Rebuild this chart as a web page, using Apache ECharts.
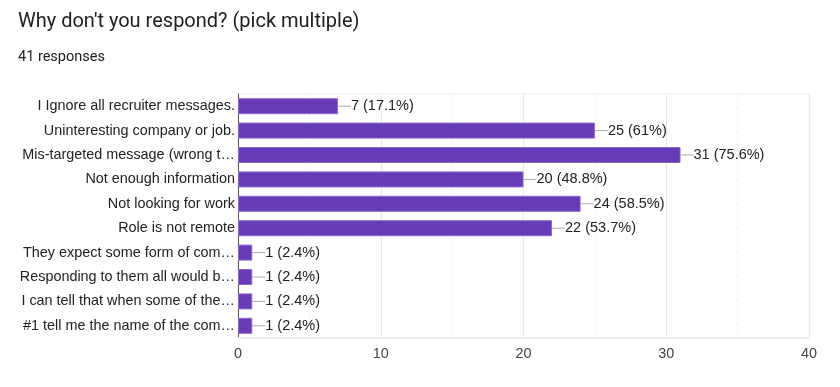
<!DOCTYPE html>
<html>
<head>
<meta charset="utf-8">
<script src="https://cdn.jsdelivr.net/npm/echarts@6/dist/echarts.min.js"></script>
<style>
html,body{margin:0;padding:0;background:#fff;}
#c{width:840px;height:387px;}
</style>
</head>
<body>
<div id="c"></div>
<script>
const titleText = "Why don't you respond? (pick multiple)";
const subtitleText = "41 responses";
const totalResponses = 41;
const categories = [
  "I Ignore all recruiter messages.",
  "Uninteresting company or job.",
  "Mis-targeted message (wrong t\u2026",
  "Not enough information",
  "Not looking for work",
  "Role is not remote",
  "They expect some form of com\u2026",
  "Responding to them all would b\u2026",
  "I can tell that when some of the\u2026",
  "#1 tell me the name of the com\u2026"
];
const counts = [7, 25, 31, 20, 24, 22, 1, 1, 1, 1];
const xTicks = [0, 10, 20, 30, 40];

const chart = echarts.init(document.getElementById('c'), null, {renderer:'canvas'});
function pct(v){
  const p = Math.round(v / totalResponses * 1000) / 10;
  return (p % 1 === 0 ? p.toFixed(0) : p.toFixed(1)) + '%';
}
chart.setOption({
  animation: false,
  backgroundColor: '#fff',
  title: [
    {text: titleText, left: 18, top: 12, padding: 0, textStyle:{fontFamily:'Roboto', fontSize:20, fontWeight:'normal', color:'#202124'}},
    {text: subtitleText, left: 18, top: 50, padding: 0, textStyle:{fontFamily:'Roboto', fontSize:14.5, fontWeight:'normal', color:'#202124'}}
  ],
  grid: {left: 238, right: 31, top: 94, height: 244, show: true, borderColor: '#eeeeee', borderWidth: 1},
  xAxis: {
    type: 'value', min: xTicks[0], max: xTicks[xTicks.length-1], interval: 10,
    axisLine: {show: true, lineStyle:{color:'#eeeeee', width:2}},
    axisTick: {show: false},
    axisLabel: {fontFamily:'Liberation Sans', fontSize:14.4, color:'#444', margin: 9},
    splitLine: {show: true, lineStyle:{color:'#e8e8e8'}},
    minorTick: {show: false, splitNumber: 2},
    minorSplitLine: {show: true, lineStyle:{color:'#f2f2f2', type:'dashed'}}
  },
  yAxis: {
    type: 'category', data: categories, inverse: true,
    axisLine: {show: true, lineStyle:{color:'#555', width:1}},
    axisTick: {show: false},
    axisLabel: {fontFamily:'Liberation Sans', fontSize:14.4, color:'#222', margin: 3}
  },
  series: [{
    type: 'bar', data: counts, barWidth: 16,
    itemStyle: {color:'#673ab7', borderColor:'#8c6bc8', borderWidth:1},
    label: {
      show: true, position: 'right', distance: 0,
      formatter: p => '{l|}{t|' + p.value + ' (' + pct(p.value) + ')}',
      rich: {
        l: {width: 13, height: 1, backgroundColor: '#aaaaaa'},
        t: {fontFamily:'Liberation Sans', fontSize: 14.5, color:'#222'}
      }
    }
  }]
});
</script>
</body>
</html>
